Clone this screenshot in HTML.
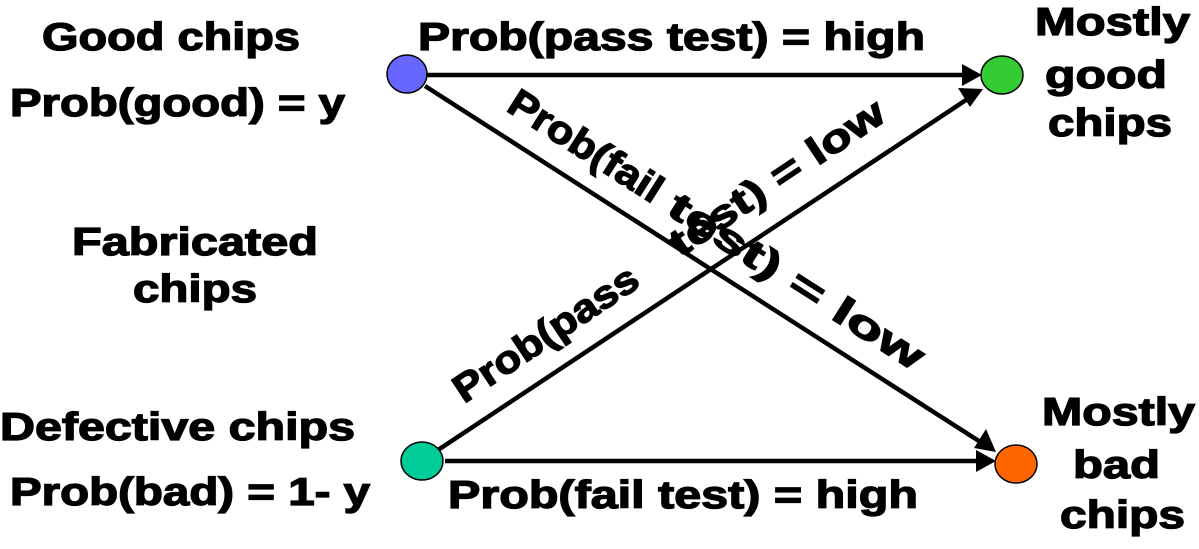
<!DOCTYPE html>
<html><head><meta charset="utf-8"><style>
html,body{margin:0;padding:0;background:#fff;}
svg{display:block;}
text{font-family:"Liberation Sans",Arial,sans-serif;font-weight:bold;font-size:39px;fill:#000;stroke:#000;stroke-width:1.3px;}
</style></head><body>
<svg width="1199" height="549" viewBox="0 0 1199 549" xmlns="http://www.w3.org/2000/svg">
<g stroke="#000" stroke-width="4.5" fill="none">
<line x1="427" y1="75" x2="966" y2="75"/>
<line x1="445" y1="461" x2="980" y2="461"/>
<line x1="425" y1="86" x2="982" y2="443"/>
<line x1="438" y1="450" x2="969" y2="98"/>
</g>
<g fill="#000">
<polygon points="982,75 962,64 962,86"/>
<polygon points="996,461 976,450 976,472"/>
<polygon points="996,452 974,448 986,429"/>
<polygon points="983,89 970,107 958,88"/>
</g>
<g stroke="#000" stroke-width="1.5">
<ellipse cx="407" cy="74" rx="20" ry="19" fill="#6666ff"/>
<ellipse cx="1002" cy="75" rx="21" ry="19" fill="#33cc33"/>
<ellipse cx="422" cy="461" rx="21" ry="19" fill="#00cc99"/>
<ellipse cx="1016" cy="464" rx="21" ry="19" fill="#ff6600"/>
</g>
<text x="42" y="50" textLength="258" lengthAdjust="spacingAndGlyphs">Good chips</text>
<text x="10" y="116" textLength="335" lengthAdjust="spacingAndGlyphs">Prob(good) = y</text>
<text x="72" y="255" textLength="246" lengthAdjust="spacingAndGlyphs">Fabricated</text>
<text x="133" y="302" textLength="124" lengthAdjust="spacingAndGlyphs">chips</text>
<text x="0" y="440" textLength="355" lengthAdjust="spacingAndGlyphs">Defective chips</text>
<text x="10" y="505" textLength="360" lengthAdjust="spacingAndGlyphs">Prob(bad) = 1- y</text>
<text x="418" y="50" textLength="507" lengthAdjust="spacingAndGlyphs">Prob(pass test) = high</text>
<text x="448" y="508" textLength="470" lengthAdjust="spacingAndGlyphs">Prob(fail test) = high</text>
<text x="1035" y="35" textLength="155" lengthAdjust="spacingAndGlyphs">Mostly</text>
<text x="1045" y="88" textLength="122" lengthAdjust="spacingAndGlyphs">good</text>
<text x="1048" y="136" textLength="124" lengthAdjust="spacingAndGlyphs">chips</text>
<text x="1042" y="425" textLength="153" lengthAdjust="spacingAndGlyphs">Mostly</text>
<text x="1073" y="478" textLength="87" lengthAdjust="spacingAndGlyphs">bad</text>
<text x="1060" y="528" textLength="125" lengthAdjust="spacingAndGlyphs">chips</text>
<text transform="translate(505,110) rotate(32.5)" x="0" y="0" textLength="175" lengthAdjust="spacingAndGlyphs">Prob(fail</text>
<text transform="translate(665,213) rotate(32.5)" x="0" y="0" textLength="295" lengthAdjust="spacingAndGlyphs">test) = low</text>
<text transform="translate(464,404) rotate(-33.7)" x="0" y="0" textLength="214" lengthAdjust="spacingAndGlyphs">Prob(pass</text>
<text transform="translate(680,258) rotate(-33.7)" x="0" y="0" textLength="250" lengthAdjust="spacingAndGlyphs">test) = low</text>
</svg>
</body></html>
